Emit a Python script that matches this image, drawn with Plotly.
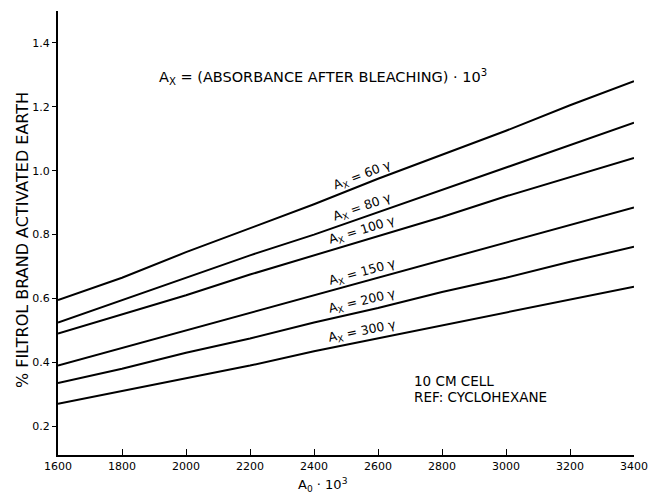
import numpy as np
import plotly.graph_objects as go

# ---- data ----
a0 = [1600, 1800, 2000, 2200, 2400, 2600, 2800, 3000, 3200, 3400]
ax_levels = [60, 80, 100, 150, 200, 300]
pct_ax60  = [0.595, 0.665, 0.745, 0.820, 0.895, 0.975, 1.050, 1.125, 1.205, 1.280]
pct_ax80  = [0.525, 0.595, 0.665, 0.735, 0.800, 0.870, 0.940, 1.010, 1.080, 1.150]
pct_ax100 = [0.490, 0.550, 0.610, 0.675, 0.735, 0.795, 0.855, 0.920, 0.980, 1.040]
pct_ax150 = [0.390, 0.445, 0.500, 0.555, 0.610, 0.665, 0.720, 0.775, 0.830, 0.885]
pct_ax200 = [0.335, 0.380, 0.430, 0.475, 0.525, 0.570, 0.620, 0.665, 0.715, 0.762]
pct_ax300 = [0.270, 0.310, 0.350, 0.390, 0.435, 0.475, 0.515, 0.555, 0.595, 0.637]
series = [pct_ax60, pct_ax80, pct_ax100, pct_ax150, pct_ax200, pct_ax300]
x_ticks = [1600, 1800, 2000, 2200, 2400, 2600, 2800, 3000, 3200, 3400]
y_ticks = [0.2, 0.4, 0.6, 0.8, 1.0, 1.2, 1.4]

# ---- layout constants ----
W, H = 649, 495
ML, MR, MT, MB = 58, 15, 11, 40
XR = [1600, 3400]
YR = [0.11, 1.5]
FONT = "DejaVu Sans"
pw = W - ML - MR
ph = H - MT - MB
sx = pw / (XR[1] - XR[0])
sy = ph / (YR[1] - YR[0])

fig = go.Figure()
for lvl, ys in zip(ax_levels, series):
    fig.add_trace(go.Scatter(x=a0, y=ys, mode="lines", name=f"Ax={lvl}",
                             line=dict(color="black", width=2), showlegend=False))

# curve labels, rotated along each line
label_x = 2550
for lvl, ys in zip(ax_levels, series):
    yv = float(np.interp(label_x, a0, ys))
    slope = (ys[-1] - ys[0]) / (a0[-1] - a0[0])
    ang = -np.degrees(np.arctan(slope * sy / sx))
    fig.add_annotation(x=label_x, y=yv, xref="x", yref="y",
                       text=f"A<sub>X</sub> = {lvl} γ", showarrow=False,
                       textangle=ang, yshift=10, xshift=0,
                       font=dict(family=FONT, size=12.5, color="black"))

fig.add_annotation(x=2428, y=1.293, xref="x", yref="y",
                   text="A<sub>X</sub> = (ABSORBANCE AFTER BLEACHING) · 10<sup>3</sup>",
                   showarrow=False, font=dict(family=FONT, size=14.5, color="black"))
fig.add_annotation(x=2706, y=0.342, xref="x", yref="y", xanchor="left",
                   text="10 CM CELL", showarrow=False,
                   font=dict(family=FONT, size=13.5, color="black"))
fig.add_annotation(x=2706, y=0.291, xref="x", yref="y", xanchor="left",
                   text="REF: CYCLOHEXANE", showarrow=False,
                   font=dict(family=FONT, size=13.5, color="black"))
# axis titles
fig.add_annotation(x=2428, y=0, xref="x", yref="paper", yshift=-30,
                   yanchor="middle",
                   text="A<sub>0</sub> · 10<sup>3</sup>", showarrow=False,
                   font=dict(family=FONT, size=13, color="black"))
fig.add_annotation(x=0, y=0.484, xref="paper", yref="paper", xshift=-36,
                   xanchor="center", yanchor="middle",
                   text="% FILTROL BRAND ACTIVATED EARTH", textangle=-90,
                   showarrow=False, font=dict(family=FONT, size=16, color="black"))

fig.update_layout(
    width=W, height=H, margin=dict(l=ML, r=MR, t=MT, b=MB, autoexpand=False),
    paper_bgcolor="white", plot_bgcolor="white",
    xaxis=dict(range=XR, tickvals=x_ticks, ticks="inside", ticklen=6,
               automargin=False,
               tickcolor="black", showline=True, linecolor="black", linewidth=2,
               showgrid=False, zeroline=False,
               tickfont=dict(family=FONT, size=11, color="black")),
    yaxis=dict(range=YR, tickvals=y_ticks, ticks="outside", ticklen=4,
               tickformat=".1f", automargin=False,
               tickcolor="black", showline=True, linecolor="black", linewidth=2,
               showgrid=False, zeroline=False,
               tickfont=dict(family=FONT, size=11, color="black")),
)
fig.write_html("out.html", config={"displayModeBar": False},
               post_script="document.body.style.margin='0px';document.body.style.overflow='hidden';")
